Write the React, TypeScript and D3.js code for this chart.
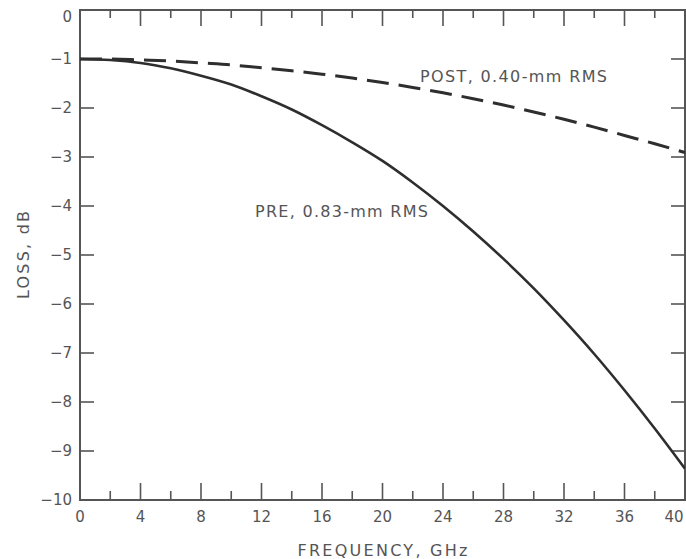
import React from "react";
import * as d3 from "d3";

const freqs = [0, 2, 4, 6, 8, 10, 12, 14, 16, 18, 20, 22, 24, 26, 28, 30, 32, 34, 36, 38, 40];
const preLoss = [-1.0, -1.02, -1.08, -1.19, -1.34, -1.52, -1.76, -2.03, -2.35, -2.7, -3.08, -3.52, -4.0, -4.52, -5.08, -5.68, -6.33, -7.02, -7.76, -8.54, -9.36];
const postLoss = [-1.0, -1.0, -1.02, -1.04, -1.08, -1.12, -1.18, -1.24, -1.31, -1.39, -1.48, -1.58, -1.69, -1.81, -1.94, -2.08, -2.23, -2.39, -2.56, -2.73, -2.91];
const xMajorTicks = [0, 4, 8, 12, 16, 20, 24, 28, 32, 36, 40];
const xMinorTicks = [2, 6, 10, 14, 18, 22, 26, 30, 34, 38];
const yTicks = [0, -1, -2, -3, -4, -5, -6, -7, -8, -9, -10];

const W = 686;
const H = 559;
const left = 80;
const right = 685;
const top = 10;
const bottom = 500;

export default function App() {
  const x = d3.scaleLinear().domain([0, 40]).range([left, right]);
  const y = d3.scaleLinear().domain([0, -10]).range([top, bottom]);
  const line = d3
    .line<number>()
    .x((_, i) => x(freqs[i]))
    .y((d) => y(d))
    .curve(d3.curveMonotoneX);

  const axisColor = "#555";
  const textColor = "#555";
  const font = "'DejaVu Sans', Verdana, sans-serif";

  return (
    <svg
      width={W}
      height={H}
      style={{ position: "absolute", left: 0, top: 0, display: "block", background: "#fff" }}
    >
      <defs>
        <clipPath id="plot">
          <rect x={left} y={top} width={right - left} height={bottom - top} />
        </clipPath>
      </defs>
      {/* frame */}
      <rect x={left} y={top} width={right - left} height={bottom - top} fill="none" stroke={axisColor} strokeWidth={2} />

      {/* x ticks bottom & top */}
      {xMajorTicks.map((t) => (
        <g key={"xm" + t}>
          <line x1={x(t)} x2={x(t)} y1={bottom} y2={bottom - 17} stroke={axisColor} strokeWidth={1.6} />
          <line x1={x(t)} x2={x(t)} y1={top} y2={top + 16} stroke={axisColor} strokeWidth={1.6} />
          <text
            x={Math.min(x(t), 674)}
            y={517}
            textAnchor="middle"
            dominantBaseline="central"
            fontFamily={font}
            fontSize={15}
            fill={textColor}
          >
            {t}
          </text>
        </g>
      ))}
      {xMinorTicks.map((t) => (
        <g key={"xn" + t}>
          <line x1={x(t)} x2={x(t)} y1={bottom} y2={bottom - 9} stroke={axisColor} strokeWidth={1.6} />
          <line x1={x(t)} x2={x(t)} y1={top} y2={top + 8} stroke={axisColor} strokeWidth={1.6} />
        </g>
      ))}

      {/* y ticks left & right */}
      {yTicks.map((t) => (
        <g key={"y" + t}>
          <line x1={left} x2={left + 14} y1={y(t)} y2={y(t)} stroke={axisColor} strokeWidth={1.6} />
          <line x1={right} x2={right - 14} y1={y(t)} y2={y(t)} stroke={axisColor} strokeWidth={1.6} />
          <text
            x={72}
            y={Math.max(y(t), 17)}
            textAnchor="end"
            dominantBaseline="central"
            fontFamily={font}
            fontSize={15}
            fill={textColor}
          >
            {t === 0 ? "0" : "\u2212" + Math.abs(t)}
          </text>
        </g>
      ))}

      {/* curves */}
      <g clipPath="url(#plot)">
        <path d={line(preLoss) || ""} fill="none" stroke="#2e2e2e" strokeWidth={2.6} />
        <path
          d={line(postLoss) || ""}
          fill="none"
          stroke="#2e2e2e"
          strokeWidth={3}
          strokeDasharray="22 10"
        />
      </g>

      {/* annotations */}
      <text x={420} y={82} fontFamily={font} fontSize={16} fill={textColor} textLength={187} lengthAdjust="spacing">
        POST, 0.40-mm RMS
      </text>
      <text x={255} y={217} fontFamily={font} fontSize={16} fill={textColor} textLength={173} lengthAdjust="spacing">
        PRE, 0.83-mm RMS
      </text>

      {/* axis titles */}
      <text
        x={(left + right) / 2}
        y={550}
        textAnchor="middle"
        dominantBaseline="central"
        fontFamily={font}
        fontSize={16}
        fill={textColor}
        textLength={170}
        lengthAdjust="spacing"
      >
        FREQUENCY, GHz
      </text>
      <text
        transform={`translate(23, ${(top + bottom) / 2}) rotate(-90)`}
        textAnchor="middle"
        dominantBaseline="central"
        fontFamily={font}
        fontSize={16}
        fill={textColor}
        textLength={88}
        lengthAdjust="spacing"
      >
        LOSS, dB
      </text>
    </svg>
  );
}
